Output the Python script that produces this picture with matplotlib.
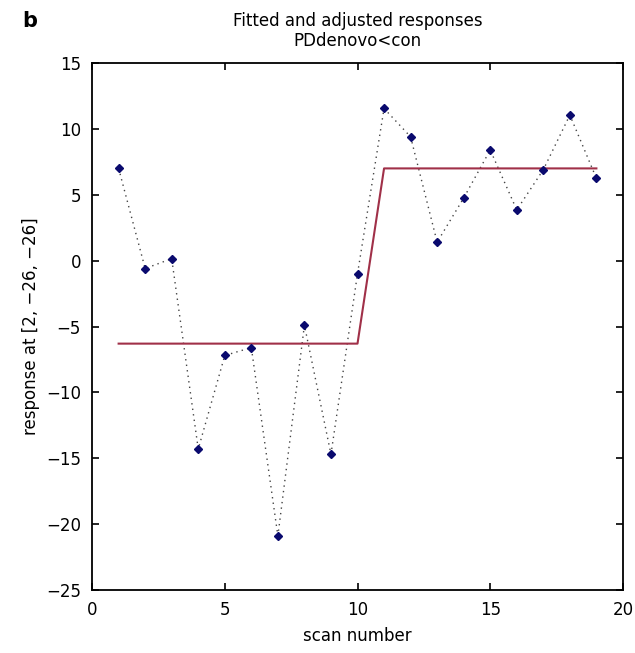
import matplotlib.pyplot as plt
import numpy as np

scan = np.arange(1, 20)
response = [7.0, -0.6, 0.15, -14.3, -7.2, -6.6, -20.9, -4.9, -14.7, -1.0,
            11.55, 9.4, 1.4, 4.75, 8.4, 3.85, 6.9, 11.05, 6.25]
fit_x = [1, 10, 11, 19]
fit_y = [-6.3, -6.3, 7.0, 7.0]

fig = plt.figure(figsize=(6.35, 6.53), dpi=100)
ax = fig.add_axes([0.145, 0.0965, 0.836, 0.807])

ax.plot(scan, response, ls=(0, (1, 3)), color='#444444', lw=1.0)
ax.plot(fit_x, fit_y, color='#a03048', lw=1.5)
ax.plot(scan, response, ls='none', marker='D', ms=4.5, color='#0a0a6e')

ax.set_xlim(0, 20)
ax.set_ylim(-25, 15)
ax.set_xticks(np.arange(0, 21, 5))
ax.set_yticks(np.arange(-25, 16, 5))
ax.tick_params(direction='in', top=True, right=True, length=5, width=1.2,
               labelsize=12, pad=8)
ax.set_yticklabels([str(v).replace('-', '\u2212') for v in range(-25, 16, 5)])
for s in ax.spines.values():
    s.set_linewidth(1.3)

ax.set_xlabel('scan number', fontsize=12, labelpad=6)
ax.set_ylabel('response at [2, \u221226, \u221226]', fontsize=12, labelpad=4)
ax.set_title('Fitted and adjusted responses\nPDdenovo<con', fontsize=12,
             linespacing=1.15, pad=12)
fig.text(0.035, 0.968, 'b', fontsize=15, fontweight='bold', va='center')

fig.savefig('out.png', dpi=100)
